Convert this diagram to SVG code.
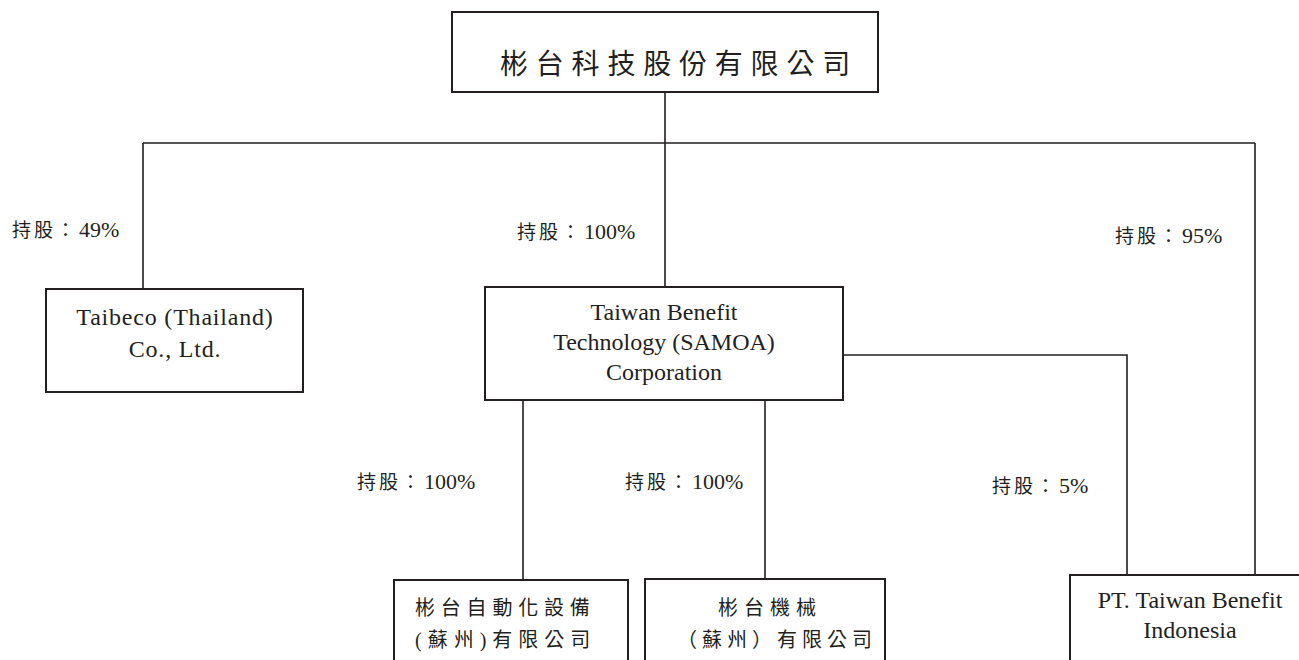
<svg xmlns="http://www.w3.org/2000/svg" width="1299" height="660" viewBox="0 0 1299 660">
<style>
.box{fill:#fff;stroke:#231f20;stroke-width:2}
.ln{fill:none;stroke:#231f20;stroke-width:1.6}
.cn{font-family:"Liberation Serif","Noto Sans CJK TC",serif;fill:#231f20}
.en{font-family:"Liberation Serif",serif;fill:#231f20;font-size:24px;text-anchor:middle}
.lbl{font-family:"Liberation Serif","Noto Sans CJK TC",serif;fill:#231f20;font-size:19px;letter-spacing:3px}
.num{font-size:22px;letter-spacing:0}
</style>
<g id="connectors">
<path class="ln" d="M665 92V143M143 143H1255M143 143V289M665 143V287M1255 143V576"/>
<path class="ln" d="M843 355H1127V577"/>
<path class="ln" d="M523 400V580M765 400V579"/>
</g>
<g id="labels">
<text class="lbl" x="12" y="237">持股：<tspan class="num" dx="1">49%</tspan></text>
<text class="lbl" x="517" y="239">持股：<tspan class="num" dx="1">100%</tspan></text>
<text class="lbl" x="1115" y="243">持股：<tspan class="num" dx="1">95%</tspan></text>
<text class="lbl" x="357" y="489">持股：<tspan class="num" dx="1">100%</tspan></text>
<text class="lbl" x="625" y="489">持股：<tspan class="num" dx="1">100%</tspan></text>
<text class="lbl" x="992" y="493">持股：<tspan class="num" dx="1">5%</tspan></text>
</g>
<g id="parent">
<rect class="box" x="452" y="12" width="426" height="80"/>
<text class="cn" x="500" y="74" font-size="28" letter-spacing="7.8">彬台科技股份有限公司</text>
</g>
<g id="taibeco">
<rect class="box" x="46" y="289" width="257" height="103"/>
<text class="en" x="175" y="325" font-size="25" letter-spacing="0.8">Taibeco (Thailand)</text>
<text class="en" x="175" y="357" font-size="25" letter-spacing="0.8">Co., Ltd.</text>
</g>
<g id="samoa">
<rect class="box" x="485" y="287" width="358" height="113"/>
<text class="en" x="664" y="320">Taiwan Benefit</text>
<text class="en" x="664" y="350">Technology (SAMOA)</text>
<text class="en" x="664" y="380">Corporation</text>
</g>
<g id="automation">
<rect class="box" x="394" y="580" width="234" height="90"/>
<text class="cn" x="415" y="615" font-size="20" letter-spacing="5.8">彬台自動化設備</text>
<text class="cn" x="415" y="647" font-size="20" letter-spacing="6">(蘇州)有限公司</text>
</g>
<g id="machinery">
<rect class="box" x="645" y="579" width="240" height="91"/>
<text class="cn" x="718" y="615" font-size="20" letter-spacing="6">彬台機械</text>
<text class="cn" x="677" y="647" font-size="20" letter-spacing="5">（蘇州）有限公司</text>
</g>
<g id="indonesia">
<rect class="box" x="1070" y="575" width="240" height="95"/>
<text class="en" x="1190" y="608">PT. Taiwan Benefit</text>
<text class="en" x="1190" y="638">Indonesia</text>
</g>
</svg>
